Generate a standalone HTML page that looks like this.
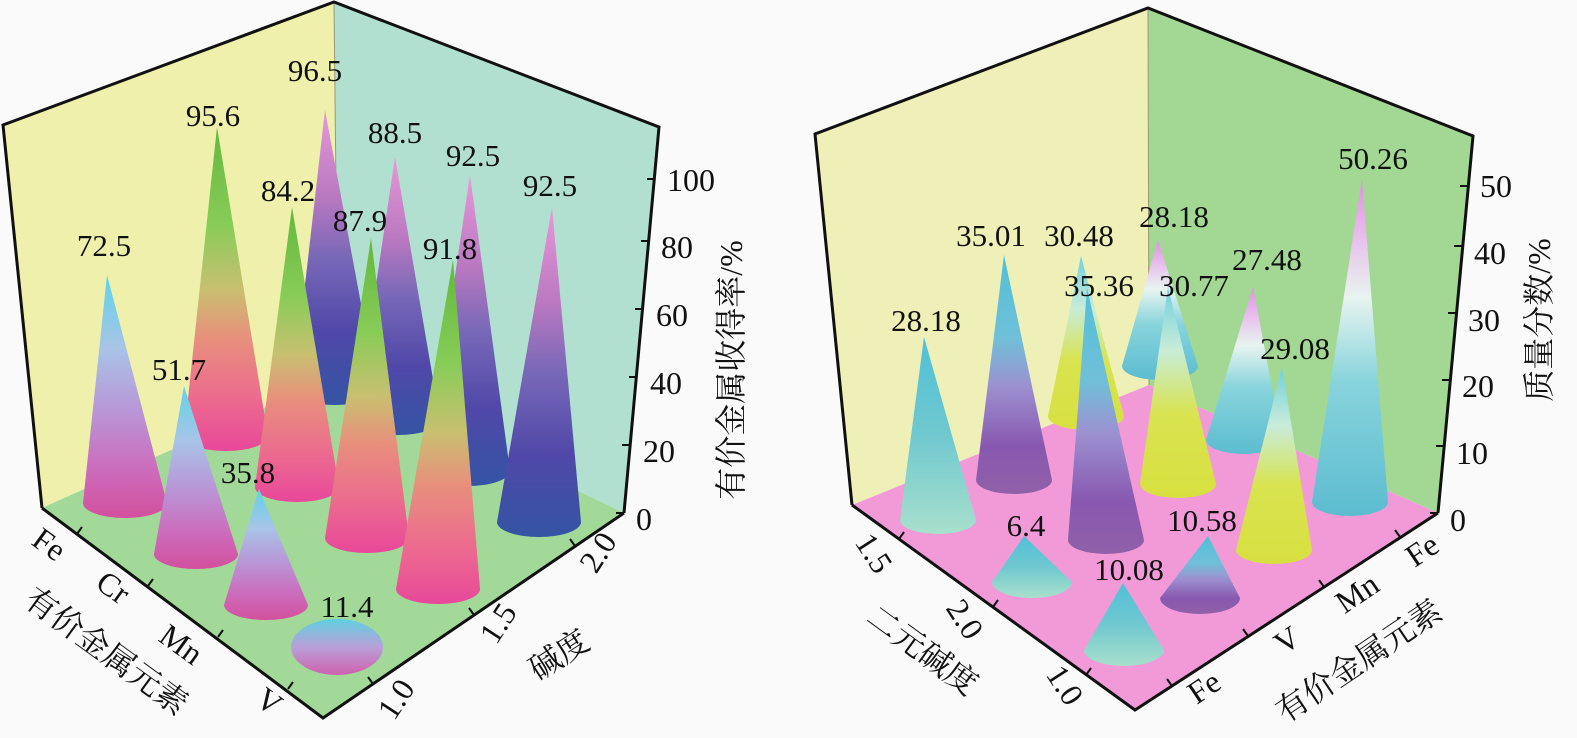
<!DOCTYPE html>
<html><head><meta charset="utf-8"><style>
html,body{margin:0;padding:0;background:#fafafa;}
svg{display:block;}
text{font-family:"Liberation Serif","Noto Serif CJK SC","Noto Sans CJK SC",serif;fill:#111;}
</style></head><body>
<svg width="1577" height="738" viewBox="0 0 1577 738" xmlns="http://www.w3.org/2000/svg">
<defs>
<linearGradient id="g0" x1="0" y1="0" x2="0" y2="1"><stop offset="0" stop-color="#5ed4ea"/><stop offset=".3" stop-color="#a8c4e6"/><stop offset=".55" stop-color="#b898d8"/><stop offset=".8" stop-color="#cc6cbc"/><stop offset="1" stop-color="#d2509e"/></linearGradient>
<linearGradient id="g1" x1="0" y1="0" x2="0" y2="1"><stop offset="0" stop-color="#62b83c"/><stop offset=".3" stop-color="#88cc58"/><stop offset=".5" stop-color="#c8c070"/><stop offset=".65" stop-color="#e8907c"/><stop offset=".85" stop-color="#ec6890"/><stop offset="1" stop-color="#e8489a"/></linearGradient>
<linearGradient id="g2" x1="0" y1="0" x2="0" y2="1"><stop offset="0" stop-color="#e898d8"/><stop offset=".3" stop-color="#b878c0"/><stop offset=".5" stop-color="#7868b8"/><stop offset=".75" stop-color="#5048a8"/><stop offset="1" stop-color="#3454a4"/></linearGradient>
<linearGradient id="gs" x1="0" y1="0" x2="0" y2="1"><stop offset="0" stop-color="#60d0e0"/><stop offset=".5" stop-color="#b8a0d8"/><stop offset="1" stop-color="#d060b0"/></linearGradient>
<linearGradient id="rm" x1="0" y1="0" x2="0" y2="1"><stop offset="0" stop-color="#50c0d8"/><stop offset=".5" stop-color="#70c8d0"/><stop offset="1" stop-color="#a8e0cc"/></linearGradient>
<linearGradient id="rp" x1="0" y1="0" x2="0" y2="1"><stop offset="0" stop-color="#50c0d8"/><stop offset=".35" stop-color="#70c0d8"/><stop offset=".55" stop-color="#9c90d0"/><stop offset=".8" stop-color="#8858b0"/><stop offset="1" stop-color="#9060a8"/></linearGradient>
<linearGradient id="ry" x1="0" y1="0" x2="0" y2="1"><stop offset="0" stop-color="#70d0e0"/><stop offset=".3" stop-color="#c8ecd8"/><stop offset=".6" stop-color="#d8e450"/><stop offset="1" stop-color="#d8e040"/></linearGradient>
<linearGradient id="rw" x1="0" y1="0" x2="0" y2="1"><stop offset="0" stop-color="#e090e0"/><stop offset=".15" stop-color="#e8b8ec"/><stop offset=".35" stop-color="#e8f4f0"/><stop offset=".6" stop-color="#88d4dc"/><stop offset="1" stop-color="#5cbcd0"/></linearGradient>
</defs>

<!-- LEFT CHART -->
<polygon points="3,125 334,2 338,375 42,508" fill="#eef0ac"/>
<polygon points="334,2 659,127 624,513 338,375" fill="#b2e0d0"/>
<polygon points="42,508 338,375 624,513 323,718" fill="#a2d898"/>
<line x1="334" y1="2" x2="338" y2="375" stroke="#9a9a70" stroke-width="1"/>

<path d="M325,110 L293,390 A42,15 0 0 0 377,390 Z" fill="url(#g2)"/>
<path d="M395,157 L356,420 A42,15 0 0 0 440,420 Z" fill="url(#g2)"/>
<path d="M217,127 L184,436 A42,15 0 0 0 268,436 Z" fill="url(#g1)"/>
<path d="M470,175 L426,471 A42,15 0 0 0 510,471 Z" fill="url(#g2)"/>
<path d="M292,207 L255,487 A42,15 0 0 0 339,487 Z" fill="url(#g1)"/>
<path d="M107,275 L83,503 A42,15 0 0 0 167,503 Z" fill="url(#g0)"/>
<path d="M552,207 L497,522 A42,15 0 0 0 581,522 Z" fill="url(#g2)"/>
<path d="M371,238 L325,538 A42,15 0 0 0 409,538 Z" fill="url(#g1)"/>
<path d="M184,386 L154,554 A42,15 0 0 0 238,554 Z" fill="url(#g0)"/>
<path d="M453,260 L396,589 A42,15 0 0 0 480,589 Z" fill="url(#g1)"/>
<path d="M259,489 L224,605 A42,15 0 0 0 308,605 Z" fill="url(#g0)"/>
<ellipse cx="337" cy="647" rx="46" ry="28" fill="url(#gs)"/>

<polyline points="42,508 3,125 334,2 659,127 624,513" fill="none" stroke="#111" stroke-width="3"/>
<polyline points="42,508 323,718 624,513" fill="none" stroke="#111" stroke-width="3"/>
<g stroke="#111" stroke-width="2">
<line x1="624" y1="513" x2="616" y2="513"/><line x1="630" y1="445" x2="622" y2="445"/><line x1="637" y1="377" x2="629" y2="377"/><line x1="643" y1="309" x2="635" y2="309"/><line x1="649" y1="241" x2="641" y2="241"/><line x1="655" y1="179" x2="647" y2="179"/>
<line x1="77" y1="534" x2="82" y2="527"/><line x1="148" y1="586" x2="153" y2="579"/><line x1="218" y1="637" x2="223" y2="630"/><line x1="288" y1="689" x2="293" y2="682"/>
<line x1="373" y1="684" x2="368" y2="677"/><line x1="474" y1="615" x2="469" y2="608"/><line x1="575" y1="546" x2="570" y2="539"/>
</g>
<g font-size="32">
<text x="636" y="530">0</text><text x="643" y="462">20</text><text x="650" y="394">40</text><text x="656" y="326">60</text><text x="661" y="258">80</text><text x="667" y="191">100</text>
</g>
<text transform="translate(742,370) rotate(-90)" font-size="32" text-anchor="middle">有价金属收得率/%</text>
<g font-size="32" text-anchor="middle">
<text transform="translate(43,553) rotate(36)">Fe</text>
<text transform="translate(107,596) rotate(36)">Cr</text>
<text transform="translate(175,653) rotate(36)">Mn</text>
<text transform="translate(263,710) rotate(36)">V</text>
<text transform="translate(100,660) rotate(36)" font-size="32">有价金属元素</text>
<text transform="translate(405,705) rotate(-57)">1.0</text>
<text transform="translate(507,629) rotate(-57)">1.5</text>
<text transform="translate(607,558) rotate(-57)">2.0</text>
<text transform="translate(565,664) rotate(-33)" font-size="32">碱度</text>
</g>
<g font-size="31" text-anchor="middle">
<text x="104" y="256">72.5</text><text x="213" y="126">95.6</text><text x="315" y="81">96.5</text>
<text x="288" y="201">84.2</text><text x="395" y="143">88.5</text><text x="473" y="166">92.5</text>
<text x="550" y="196">92.5</text><text x="360" y="231">87.9</text><text x="450" y="259">91.8</text>
<text x="179" y="380">51.7</text><text x="248" y="483">35.8</text><text x="347" y="617">11.4</text>
</g>

<!-- RIGHT CHART -->
<polygon points="815,134 1148,8 1149,385 852,505" fill="#eef0b8"/>
<polygon points="1148,8 1473,136 1438,513 1149,385" fill="#a2d894"/>
<polygon points="852,505 1149,385 1438,513 1135,710" fill="#f29ad8"/>
<line x1="1148" y1="8" x2="1149" y2="385" stroke="#9a9a70" stroke-width="1"/>

<path d="M1158,240 L1122,366 A38,14 0 0 0 1198,366 Z" fill="url(#rw)"/>
<path d="M1081,256 L1048,416 A38,14 0 0 0 1124,416 Z" fill="url(#ry)"/>
<path d="M1004,255 L976,480 A38,14 0 0 0 1052,480 Z" fill="url(#rp)"/>
<path d="M1253,287 L1206,440 A38,14 0 0 0 1282,440 Z" fill="url(#rw)"/>
<path d="M1168,287 L1140,484 A38,14 0 0 0 1216,484 Z" fill="url(#ry)"/>
<path d="M1362,179 L1312,502 A38,14 0 0 0 1388,502 Z" fill="url(#rw)"/>
<path d="M924,337 L900,520 A38,14 0 0 0 976,520 Z" fill="url(#rm)"/>
<path d="M1087,288 L1068,540 A38,14 0 0 0 1144,540 Z" fill="url(#rp)"/>
<path d="M1282,367 L1236,550 A38,14 0 0 0 1312,550 Z" fill="url(#ry)"/>
<path d="M1024,536 L992,582 A40,16 0 0 0 1072,582 Z" fill="url(#rm)"/>
<path d="M1208,536 L1160,598 A40,16 0 0 0 1240,598 Z" fill="url(#rp)"/>
<path d="M1123,583 L1084,650 A40,16 0 0 0 1164,650 Z" fill="url(#rm)"/>

<polyline points="852,505 815,134 1148,8 1473,136 1438,513" fill="none" stroke="#111" stroke-width="3"/>
<polyline points="852,505 1135,710 1438,513" fill="none" stroke="#111" stroke-width="3"/>
<g stroke="#111" stroke-width="2">
<line x1="1438" y1="513" x2="1430" y2="513"/><line x1="1444" y1="446" x2="1436" y2="446"/><line x1="1450" y1="380" x2="1442" y2="380"/><line x1="1456" y1="313" x2="1448" y2="313"/><line x1="1462" y1="246" x2="1454" y2="246"/><line x1="1468" y1="186" x2="1460" y2="186"/>
<line x1="899" y1="539" x2="904" y2="532"/><line x1="993" y1="607" x2="998" y2="600"/><line x1="1086" y1="675" x2="1091" y2="668"/>
<line x1="1172" y1="686" x2="1167" y2="679"/><line x1="1248" y1="636" x2="1243" y2="629"/><line x1="1324" y1="587" x2="1319" y2="580"/><line x1="1400" y1="537" x2="1395" y2="530"/>
</g>
<g font-size="32">
<text x="1450" y="531">0</text><text x="1456" y="464">10</text><text x="1462" y="397">20</text><text x="1468" y="331">30</text><text x="1474" y="264">40</text><text x="1480" y="197">50</text>
</g>
<text transform="translate(1550,320) rotate(-90)" font-size="32" text-anchor="middle">质量分数/%</text>
<g font-size="32" text-anchor="middle">
<text transform="translate(865,559) rotate(57)">1.5</text>
<text transform="translate(956,625) rotate(57)">2.0</text>
<text transform="translate(1056,691) rotate(57)">1.0</text>
<text transform="translate(916,659) rotate(36)" font-size="32">二元碱度</text>
<text transform="translate(1428,559) rotate(-34)">Fe</text>
<text transform="translate(1363,602) rotate(-34)">Mn</text>
<text transform="translate(1293,649) rotate(-34)">V</text>
<text transform="translate(1210,696) rotate(-34)">Fe</text>
<text transform="translate(1365,670) rotate(-34)" font-size="32">有价金属元素</text>
</g>
<g font-size="31" text-anchor="middle">
<text x="926" y="331">28.18</text><text x="991" y="246">35.01</text><text x="1079" y="246">30.48</text>
<text x="1174" y="227">28.18</text><text x="1099" y="296">35.36</text><text x="1194" y="296">30.77</text>
<text x="1267" y="270">27.48</text><text x="1295" y="359">29.08</text><text x="1373" y="169">50.26</text>
<text x="1026" y="536">6.4</text><text x="1129" y="580">10.08</text><text x="1202" y="531">10.58</text>
</g>
</svg>
</body></html>
